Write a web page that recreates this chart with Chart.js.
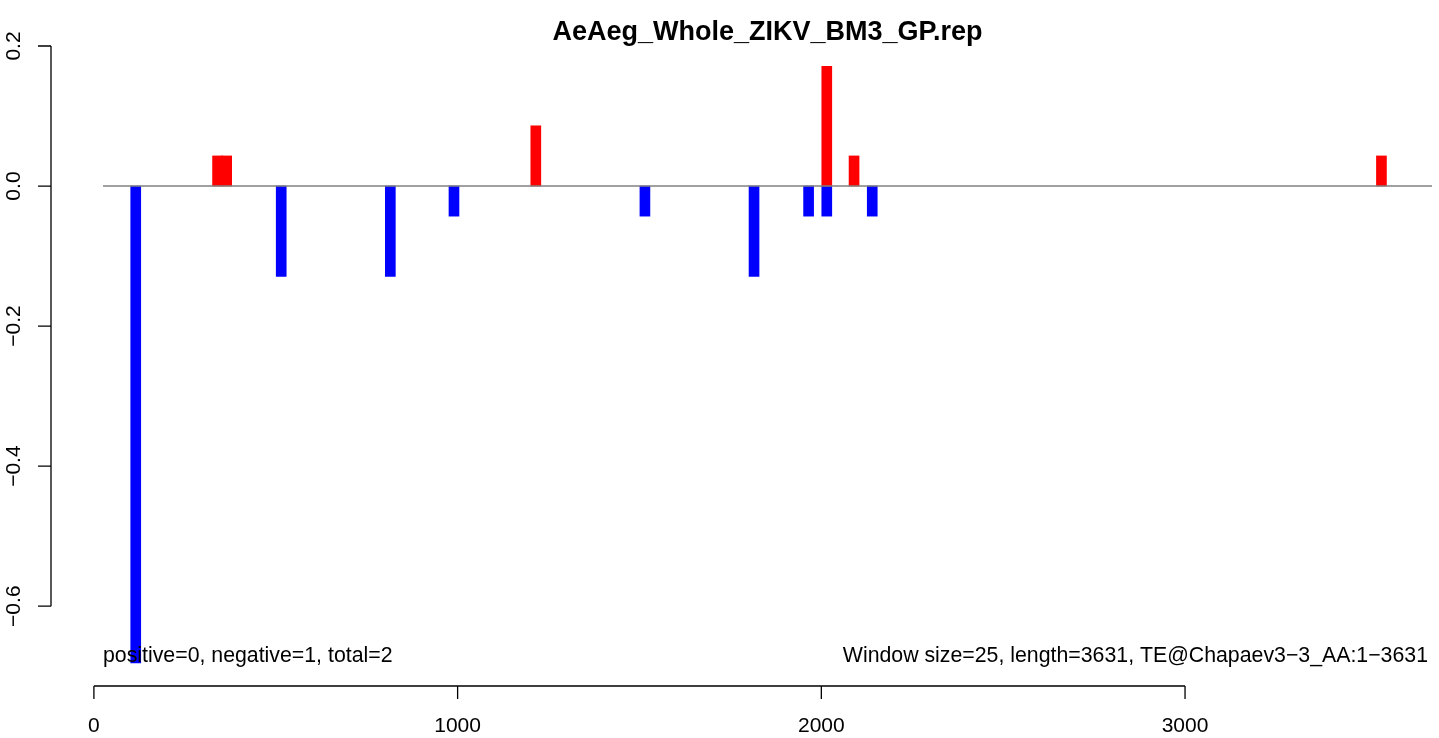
<!DOCTYPE html>
<html lang="en">
<head>
    <meta charset="UTF-8">
    <title>AeAeg_Whole_ZIKV_BM3_GP.rep</title>
    <script src="https://cdn.jsdelivr.net/npm/chart.js"></script>
    <style>
        html, body { margin: 0; padding: 0; background: #fff; }
        #wrap { width: 1439px; height: 738px; }
    </style>
</head>
<body>
    <div id="wrap">
        <canvas id="repChart"></canvas>
    </div>

    <script>
        // window positions (centres) and scores
        var posX = [340, 365, 1215, 2015, 2090, 3540];
        var posY = [0.043, 0.043, 0.086, 0.171, 0.043, 0.043];
        var negX = [115, 515, 815, 990, 1515, 1815, 1965, 2015, 2140];
        var negY = [-0.681, -0.129, -0.129, -0.043, -0.043, -0.129, -0.043, -0.043, -0.043];

        var xTicks = [0, 1000, 2000, 3000];
        var yTicks = [-0.6, -0.4, -0.2, 0.0, 0.2];
        var yTickLabels = ["-0.6", "-0.4", "-0.2", "0.0", "0.2"];

        var titleText = "AeAeg_Whole_ZIKV_BM3_GP.rep";
        var leftNote = "positive=0, negative=1, total=2";
        var rightNote = "Window size=25, length=3631, TE@Chapaev3-3_AA:1-3631";

        function toPoints(xs, ys) {
            return xs.map(function (x, i) { return { x: x, y: ys[i] }; });
        }

        var font = "Liberation Sans, Arial, sans-serif";

        // R-style axes, zero line and notes
        var rPlot = {
            id: 'rPlot',
            afterDatasetsDraw: function (chart) {
                var ctx = chart.ctx, a = chart.chartArea;
                var ys = chart.scales.y;
                var y0 = ys.getPixelForValue(0);
                ctx.save();
                ctx.strokeStyle = '#808080';
                ctx.lineWidth = 1.5;
                ctx.beginPath();
                ctx.moveTo(a.left, y0);
                ctx.lineTo(a.right, y0);
                ctx.stroke();
                ctx.restore();
            },
            afterDraw: function (chart) {
                var ctx = chart.ctx, a = chart.chartArea;
                var xs = chart.scales.x, ys = chart.scales.y;
                ctx.save();
                ctx.strokeStyle = '#000';
                ctx.fillStyle = '#000';
                ctx.lineWidth = 1.3;

                // x axis
                var xb = a.bottom;
                ctx.beginPath();
                ctx.moveTo(xs.getPixelForValue(xTicks[0]), xb);
                ctx.lineTo(xs.getPixelForValue(xTicks[xTicks.length - 1]), xb);
                xTicks.forEach(function (t) {
                    var px = xs.getPixelForValue(t);
                    ctx.moveTo(px, xb);
                    ctx.lineTo(px, xb + 13);
                });
                ctx.stroke();
                ctx.font = '21px ' + font;
                ctx.textAlign = 'center';
                ctx.textBaseline = 'middle';
                xTicks.forEach(function (t) {
                    ctx.fillText(String(t), xs.getPixelForValue(t), xb + 40);
                });

                // y axis
                var yl = a.left - 52;
                ctx.beginPath();
                ctx.moveTo(yl, ys.getPixelForValue(yTicks[0]));
                ctx.lineTo(yl, ys.getPixelForValue(yTicks[yTicks.length - 1]));
                yTicks.forEach(function (t) {
                    var py = ys.getPixelForValue(t);
                    ctx.moveTo(yl, py);
                    ctx.lineTo(yl - 13, py);
                });
                ctx.stroke();
                yTicks.forEach(function (t, i) {
                    var py = ys.getPixelForValue(t);
                    ctx.save();
                    ctx.translate(yl - 37, py);
                    ctx.rotate(-Math.PI / 2);
                    ctx.fillText(yTickLabels[i].replace('-', '\u2212'), 0, 0);
                    ctx.restore();
                });

                // notes
                ctx.font = '21.3px ' + font;
                ctx.textBaseline = 'middle';
                ctx.textAlign = 'left';
                ctx.fillText(leftNote, a.left, a.bottom - 30);
                ctx.textAlign = 'right';
                ctx.fillText(rightNote.replace(/-/g, '\u2212'), a.right - 4, a.bottom - 30);

                // title
                ctx.font = 'bold 27px ' + font;
                ctx.textAlign = 'center';
                ctx.fillText(titleText, (a.left + a.right) / 2, 33);
                ctx.restore();
            }
        };

        var ctx = document.getElementById("repChart").getContext("2d");
        var chart = new Chart(ctx, {
            type: 'bar',
            data: {
                datasets: [{
                    label: 'positive',
                    data: toPoints(posX, posY),
                    backgroundColor: '#ff0000',
                    borderWidth: 0
                }, {
                    label: 'negative',
                    data: toPoints(negX, negY),
                    backgroundColor: '#0000ff',
                    borderWidth: 0
                }]
            },
            options: {
                responsive: true,
                maintainAspectRatio: false,
                animation: false,
                events: [],
                layout: { padding: { left: 103, right: 7, top: 42, bottom: 52 } },
                datasets: {
                    bar: { grouped: false, barThickness: 10 }
                },
                scales: {
                    x: { type: 'linear', display: false, min: 25, max: 3679, offset: false },
                    y: { type: 'linear', display: false, min: -0.714, max: 0.2057 }
                },
                plugins: {
                    legend: { display: false },
                    tooltip: { enabled: false },
                    title: { display: false }
                }
            },
            plugins: [rPlot]
        });
    </script>
</body>
</html>
